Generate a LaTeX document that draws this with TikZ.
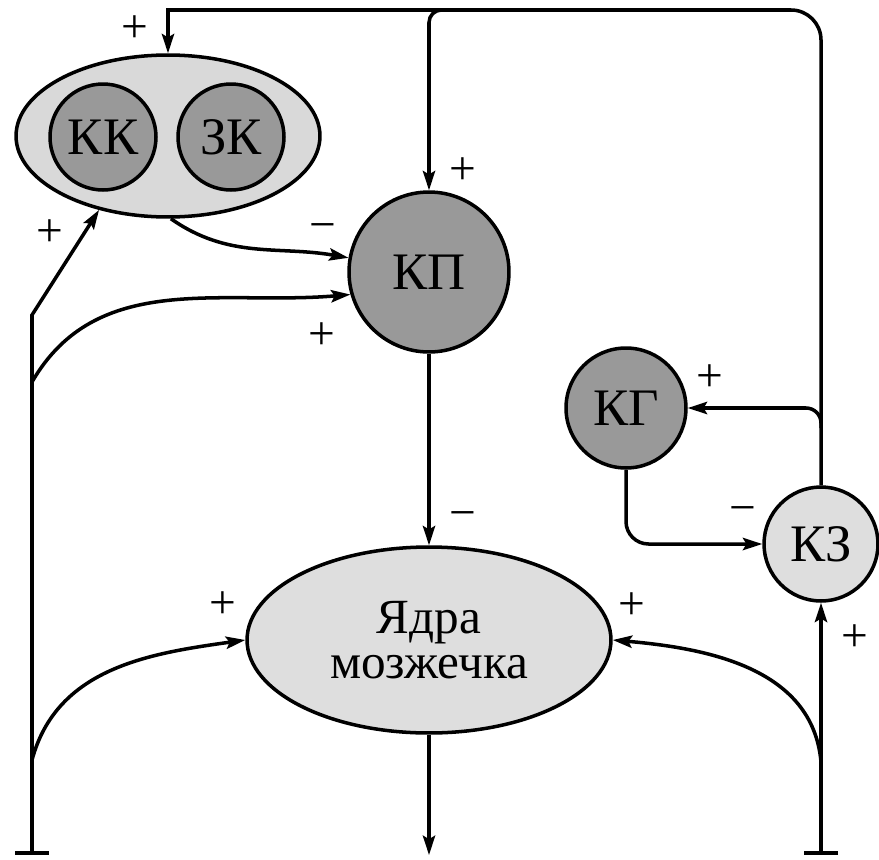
\documentclass[tikz,border=0pt]{standalone}
\usepackage{fontspec}
\setmainfont{Liberation Serif}
\usetikzlibrary{arrows.meta, shapes.geometric}

\begin{document}
\begin{tikzpicture}[x=0.02cm, y=-0.02cm,
  cell/.style={draw, circle, line width=2pt, inner sep=0pt, font=\fontsize{30}{34}\selectfont},
  arr/.style={-{Stealth[length=11pt, width=7pt, inset=2pt]}, line width=2pt},
  tbar/.style={{Bar[width=0.68cm]}-{Stealth[length=11pt, width=7pt, inset=2pt]}, line width=2pt},
  sgn/.style={font=\fontsize{27}{27}\selectfont, inner sep=0pt}]
  \useasboundingbox (0,0) rectangle (879,859);

  % cortex group and nuclei
  \node[draw, ellipse, line width=2pt, fill=black!15, minimum width=6.08cm, minimum height=3.24cm, inner sep=0pt] (grp) at (168,136) {};
  \node[cell, fill=black!40, minimum size=2.12cm] (kk) at (103,137) {КК};
  \node[cell, fill=black!40, minimum size=2.12cm] (zk) at (231,137) {ЗК};
  \node[cell, fill=black!40, minimum size=3.2cm] (kp) at (429,272) {КП};
  \node[cell, fill=black!40, minimum size=2.4cm] (kg) at (626,408) {КГ};
  \node[cell, fill=black!13, minimum size=2.28cm] (kz) at (821,544) {КЗ};
  \node[draw, ellipse, line width=2pt, fill=black!13, minimum width=7.28cm, minimum height=3.72cm, inner sep=0pt, align=center, font=\fontsize{28}{26}\selectfont] (nuc) at (429,640) {Ядра\\мозжечка};

  \coordinate (inL) at (32,855);
  \coordinate (inR) at (821,855);
  \coordinate (out) at (429,855);

  % feedback loop from KZ
  \draw[arr, rounded corners=0.6cm] (kz.north) |- (500,10) [sharp corners] -| (grp.north);
  \draw[arr, rounded corners=0.25cm] (445,10) -| (kp.north);
  \draw[arr, rounded corners=0.3cm] (821,428) |- (kg.east);
  \draw[arr, rounded corners=0.45cm] (kg.south) |- (kz.west);

  % inputs
  \draw[tbar] (inR) -- (kz.south);
  \draw[arr] (821,762) to[out=95, in=-5] (nuc.east);
  \draw[tbar] (inL) -- (32,315) -- (grp.227);
  \draw[arr] (32,382) to[out=60, in=185] (kp.196);
  \draw[arr] (32,760) to[out=75, in=188] (nuc.west);

  \draw[arr] (grp.272) to[out=-35, in=170] (kp.170);
  \draw[arr] (kp.south) -- (nuc.north);
  \draw[arr] (nuc.south) -- (out);

  % signs
  \node[sgn] (s1) at (135,29) {+};
  \node[sgn] (s2) at (50,233) {+};
  \node[sgn] (s3) at (323,232) {−};
  \node[sgn] (s4) at (463,171) {+};
  \node[sgn] (s5) at (322,336) {+};
  \node[sgn] (s6) at (463,520) {−};
  \node[sgn] (s7) at (223,605) {+};
  \node[sgn] (s8) at (632,606) {+};
  \node[sgn] (s9) at (710,378) {+};
  \node[sgn] (s10) at (743,515) {−};
  \node[sgn] (s11) at (855,638) {+};
\end{tikzpicture}
\end{document}
